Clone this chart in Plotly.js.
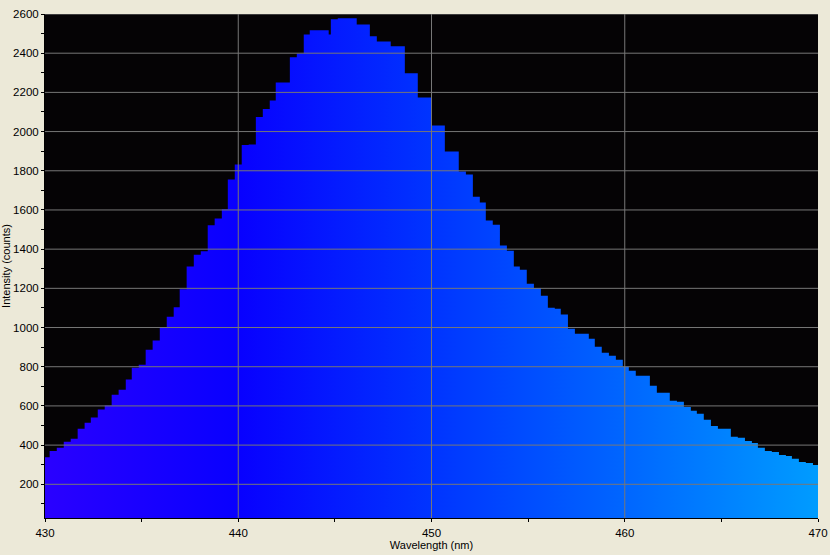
<!DOCTYPE html>
<html>
<head>
<meta charset="utf-8">
<script src="https://cdn.plot.ly/plotly-3.0.1.min.js"></script>
<style>
  html, body { margin: 0; padding: 0; background: #ece9d8; }
  #chart { width: 830px; height: 555px; }
</style>
</head>
<body>
<div id="chart"></div>
<script>
// Left edge of each detector step (nm)
const wavelength = [
  430.00, 430.24, 430.61, 430.97, 431.33, 431.69, 432.05, 432.37, 432.73, 433.09,
  433.45, 433.81, 434.18, 434.49, 434.85, 435.21, 435.57, 435.94, 436.30, 436.66,
  436.97, 437.33, 437.70, 438.06, 438.42, 438.78, 439.15, 439.46, 439.82, 440.18,
  440.54, 440.91, 441.27, 441.63, 441.94, 442.67, 443.03, 443.39, 443.70, 444.68,
  444.79, 445.15, 446.13, 446.81, 447.17, 447.89, 448.62, 449.29, 450.02, 450.69,
  451.41, 451.78, 452.14, 452.50, 452.81, 453.17, 453.54, 453.90, 454.26, 454.57,
  454.93, 455.30, 455.66, 456.02, 456.38, 456.69, 457.06, 457.42, 458.14, 458.45,
  458.81, 459.18, 459.54, 459.90, 460.21, 460.57, 461.30, 461.66, 462.33, 462.70,
  463.06, 463.42, 463.73, 464.09, 464.46, 464.82, 465.49, 465.85, 466.22, 466.58,
  466.89, 467.25, 467.61, 467.98, 468.34, 468.65, 469.01, 469.37, 469.74, 470.00
];
// Intensity of each step (counts); last value repeats to close the final step
const intensity = [
  338, 370, 387, 417, 432, 483, 514, 541, 582, 602,
  657, 682, 735, 795, 810, 887, 934, 1001, 1055, 1103,
  1195, 1312, 1372, 1389, 1522, 1556, 1604, 1755, 1832, 1931,
  1934, 2074, 2115, 2159, 2251, 2379, 2399, 2496, 2517, 2496,
  2573, 2578, 2547, 2486, 2460, 2435, 2297, 2174, 2031, 1898,
  1796, 1781, 1668, 1638, 1546, 1525, 1418, 1392, 1311, 1295,
  1224, 1202, 1162, 1101, 1096, 1066, 994, 968, 943, 902,
  871, 856, 835, 800, 779, 754, 703, 667, 626, 621,
  595, 575, 560, 529, 498, 483, 442, 437, 421, 411,
  386, 370, 365, 350, 345, 330, 314, 309, 299, 299
];
const xGridValues = [440, 450, 460];
const yGridValues = [200, 400, 600, 800, 1000, 1200, 1400, 1600, 1800, 2000, 2200, 2400, 2600];

const gridColor = '#777777';
const shapes = [];
xGridValues.forEach(v => shapes.push({
  type: 'line', layer: 'above', xref: 'x', yref: 'paper', x0: v, x1: v, y0: 0, y1: 1,
  line: {color: gridColor, width: 1}
}));
yGridValues.forEach(v => shapes.push({
  type: 'line', layer: 'above', xref: 'paper', yref: 'y', x0: 0, x1: 1, y0: v, y1: v,
  line: {color: gridColor, width: 1}
}));

const trace = {
  type: 'scatter',
  mode: 'lines',
  x: wavelength,
  y: intensity,
  line: {shape: 'hv', width: 0, color: '#0000ff'},
  fill: 'tozeroy',
  fillcolor: '#0020ff',
  fillgradient: {
    type: 'horizontal',
    colorscale: [
      [0.0, '#2a00ff'],
      [0.25, '#0800ff'],
      [0.5, '#0034ff'],
      [0.75, '#0066ff'],
      [1.0, '#009cff']
    ]
  },
  hoverinfo: 'x+y'
};

const font = {family: '"Liberation Sans", Arial, sans-serif', size: 11.5, color: '#000000'};
const titleFont = {family: '"Liberation Sans", Arial, sans-serif', size: 11, color: '#000000'};

const layout = {
  width: 830,
  height: 555,
  paper_bgcolor: '#ece9d8',
  plot_bgcolor: '#050305',
  margin: {l: 45, r: 12, t: 14, b: 37},
  showlegend: false,
  font: font,
  shapes: shapes,
  xaxis: {
    range: [430, 470],
    tick0: 430,
    dtick: 10,
    showgrid: false,
    zeroline: false,
    showline: true,
    linecolor: '#000000',
    linewidth: 1,
    ticks: 'outside',
    ticklen: 3,
    tickcolor: '#000000',
    ticklabelstandoff: 1,
    minor: {dtick: 5, ticks: 'outside', ticklen: 3, tickcolor: '#000000', showgrid: false},
    tickfont: font,
    title: {text: 'Wavelength (nm)', font: titleFont, standoff: 1}
  },
  yaxis: {
    range: [28, 2600],
    tick0: 0,
    dtick: 200,
    showgrid: false,
    zeroline: false,
    showline: true,
    linecolor: '#000000',
    linewidth: 1,
    ticks: 'outside',
    ticklen: 3,
    tickcolor: '#000000',
    minor: {dtick: 100, ticks: 'outside', ticklen: 3, tickcolor: '#000000', showgrid: false},
    tickfont: font,
    title: {text: 'Intensity (counts)', font: titleFont, standoff: 4}
  }
};

Plotly.newPlot('chart', [trace], layout, {displayModeBar: false, staticPlot: true});
</script>
</body>
</html>
